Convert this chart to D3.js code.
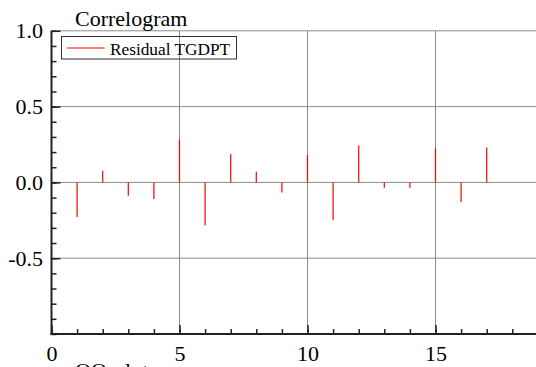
<!DOCTYPE html>
<html>
<head>
<meta charset="utf-8">
<script src="https://cdn.jsdelivr.net/npm/d3@7"></script>
<style>
  body { margin: 0; background: #fff; }
</style>
</head>
<body>
<div class="vis-correlogram"></div>
<script>
// autocorrelation of the residuals, lag 1..17
const lags = [1, 2, 3, 4, 5, 6, 7, 8, 9, 10, 11, 12, 13, 14, 15, 16, 17];
const acf = [-0.228, 0.077, -0.088, -0.11, 0.283, -0.282, 0.187, 0.071, -0.066,
             0.179, -0.249, 0.243, -0.036, -0.035, 0.224, -0.129, 0.23];
const xMajor = [0, 5, 10, 15];
const yMajor = [-0.5, 0.0, 0.5, 1.0];
const yLabels = ["-0.5", "0.0", "0.5", "1.0"];
const seriesName = "Residual TGDPT";

const W = 536, H = 367;
const serif = "'Liberation Serif', 'Times New Roman', serif";
const margin = {top: 30.8, left: 51.5, bottom: 33};

const svg = d3.select(".vis-correlogram")
              .append("svg")
              .attr("width", W)
              .attr("height", H)
              .style("display", "block");

const x = d3.scaleLinear().domain([0, 20]).range([margin.left, margin.left + 20 * 25.6]);
const y = d3.scaleLinear().domain([-1, 1]).range([H - margin.bottom, margin.top]);

const xMinor = d3.range(0, 20, 1);
const yMinor = d3.range(-10, 11).map(d => d / 10);

// grid
const grid = svg.append("g").attr("stroke", "#8c8c8c").attr("stroke-width", 1);
grid.selectAll("line.h")
    .data(yMajor)
    .join("line")
    .attr("class", "h")
    .attr("x1", x(0)).attr("x2", W)
    .attr("y1", d => y(d)).attr("y2", d => y(d));
grid.selectAll("line.v")
    .data(xMajor.filter(d => d > 0))
    .join("line")
    .attr("class", "v")
    .attr("x1", d => x(d)).attr("x2", d => x(d))
    .attr("y1", y(1)).attr("y2", y(-1));

// spikes
svg.append("g")
   .selectAll("line")
   .data(lags)
   .join("line")
   .attr("x1", d => x(d)).attr("x2", d => x(d))
   .attr("y1", y(0))
   .attr("y2", (d, i) => y(acf[i]))
   .attr("stroke", "#ff0000")
   .attr("stroke-width", 1.2);

// axes, ticks pointing inward
const styleAxis = g => {
  g.select(".domain").remove();
  g.selectAll(".tick line").attr("stroke", "#222").attr("stroke-width", 1.5);
  g.selectAll("text")
   .attr("fill", "#000")
   .style("font-family", serif)
   .style("font-size", "22px");
};

svg.append("g")
   .attr("transform", "translate(" + x(0) + ",0)")
   .call(d3.axisLeft(y).tickValues(yMinor).tickSize(-5).tickFormat(""))
   .call(styleAxis);
svg.append("g")
   .attr("transform", "translate(" + x(0) + ",0)")
   .call(d3.axisLeft(y).tickValues(yMajor).tickSize(-9).tickPadding(8.5)
           .tickFormat((d, i) => yLabels[i]))
   .call(styleAxis);

svg.append("g")
   .attr("transform", "translate(0," + y(-1) + ")")
   .call(d3.axisBottom(x).tickValues(xMinor).tickSize(-5).tickFormat(""))
   .call(styleAxis);
svg.append("g")
   .attr("transform", "translate(0," + y(-1) + ")")
   .call(d3.axisBottom(x).tickValues(xMajor).tickSize(-9).tickPadding(11.4).tickFormat(d3.format("d")))
   .call(styleAxis);

// axis lines
svg.append("line")
   .attr("x1", x(0)).attr("x2", x(0))
   .attr("y1", y(1)).attr("y2", y(-1) + 1)
   .attr("stroke", "#222").attr("stroke-width", 2);
svg.append("line")
   .attr("x1", x(0) - 1).attr("x2", W)
   .attr("y1", y(-1)).attr("y2", y(-1))
   .attr("stroke", "#222").attr("stroke-width", 2);

// title + lower panel title (cut off in the original too)
svg.append("text")
   .attr("x", 75).attr("y", 26)
   .style("font-family", serif).style("font-size", "22px")
   .text("Correlogram");
svg.append("text")
   .attr("x", 75).attr("y", 377.5)
   .style("font-family", serif).style("font-size", "22px")
   .text("QQ-plot");

// legend
const legend = svg.append("g");
legend.append("rect")
      .attr("x", 61.5).attr("y", 36.5)
      .attr("width", 175).attr("height", 22.5)
      .attr("fill", "none")
      .attr("stroke", "#333").attr("stroke-width", 1);
legend.append("line")
      .attr("x1", 67).attr("x2", 104.5)
      .attr("y1", 48).attr("y2", 48)
      .attr("stroke", "#ff0000").attr("stroke-width", 1.2);
legend.append("text")
      .attr("x", 110).attr("y", 55)
      .style("font-family", serif).style("font-size", "17.3px")
      .text(seriesName);
</script>
</body>
</html>
